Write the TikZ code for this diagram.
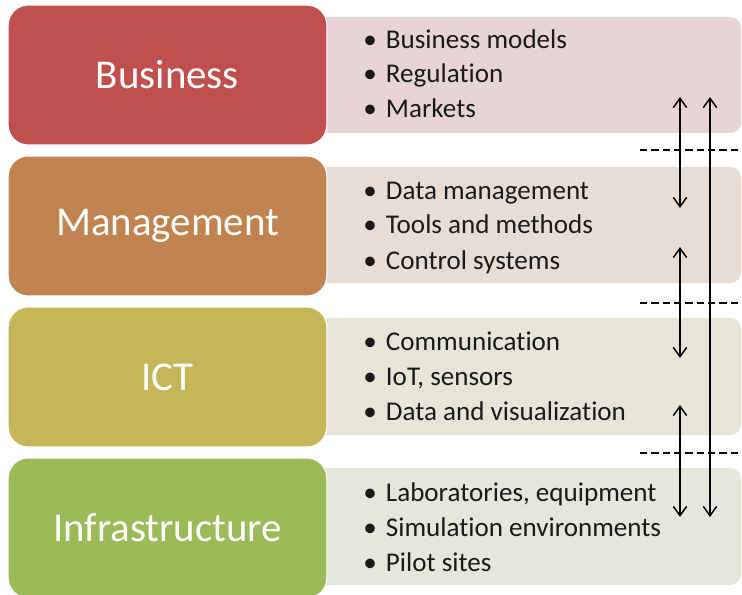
\documentclass[tikz,border=0pt]{standalone}
\usepackage{fontspec}
\setmainfont{Carlito}[RawFeature=-liga]
\usetikzlibrary{arrows.meta}
\definecolor{busC}{HTML}{C0504D}
\definecolor{busP}{HTML}{E7D4D5}
\definecolor{manC}{HTML}{C1834F}
\definecolor{manP}{HTML}{E7DDD5}
\definecolor{ictC}{HTML}{C4B659}
\definecolor{ictP}{HTML}{E6E5D8}
\definecolor{infC}{HTML}{9BBB59}
\definecolor{infP}{HTML}{E3E8DA}
\definecolor{txt}{HTML}{1A1A1A}
\begin{document}
\begin{tikzpicture}[x=0.75pt,y=-0.75pt,
  bigbox/.style={rounded corners=15pt, minimum width=239pt, minimum height=105pt, inner sep=0pt,
    text=white, font=\fontsize{30.7}{36}\selectfont, draw=white, line width=0.8pt},
  panel/.style={rounded corners=8pt},
  item/.style={anchor=base west, inner sep=0pt, font=\fontsize{20.3}{24}\selectfont, text=txt},
  sep/.style={dash pattern=on 5.5pt off 3pt, line width=1.1pt},
  dbl/.style={line width=1.1pt, {Straight Barb[length=7pt,width=10pt]}-{Straight Barb[length=7pt,width=10pt]}}
]
\fill[white] (0,0) rectangle (742,595);
\useasboundingbox (0,0) rectangle (742,595);

% panels
\fill[busP, panel] (300,17) rectangle (741,133);
\fill[manP, panel] (300,167) rectangle (741,283);
\fill[ictP, panel] (300,318) rectangle (741,435);
\fill[infP, panel] (300,468) rectangle (741,585);

% boxes
\node[bigbox, fill=busC] (bus) at (167.5,75) {Business};
\node[bigbox, fill=manC] (man) at (167.5,226) {Management};
\node[bigbox, fill=ictC] (ict) at (167.5,377) {ICT};
\node[bigbox, fill=infC] (inf) at (167.5,528) {Infrastructure};

% items
\foreach \y/\t/\n in {48.5/Business models/b1, 83/Regulation/b2, 117.5/Markets/b3,
                      199.5/Data management/m1, 234/Tools and methods/m2, 269.5/Control systems/m3,
                      350.5/Communication/c1, 385.5/{IoT, sensors}/c2, 420.5/Data and visualization/c3,
                      501.5/{Laboratories, equipment}/i1, 536.5/Simulation environments/i2, 571.5/Pilot sites/i3}
  \node[item] (\n) at (363,\y) {\makebox[17pt][l]{•}\t};

% dashed separators
\coordinate (d1a) at (640,150); \coordinate (d1b) at (742,150);
\coordinate (d2a) at (640,303); \coordinate (d2b) at (742,303);
\coordinate (d3a) at (640,453); \coordinate (d3b) at (742,453);
\draw[sep] (d1a) -- (d1b);
\draw[sep] (d2a) -- (d2b);
\draw[sep] (d3a) -- (d3b);

% arrows
\coordinate (a1t) at (680,97);  \coordinate (a1b) at (680,208);
\coordinate (a2t) at (680,247); \coordinate (a2b) at (680,358);
\coordinate (a3t) at (680,405); \coordinate (a3b) at (680,517);
\coordinate (alt) at (710,97);  \coordinate (alb) at (710,517);
\draw[dbl] (a1t) -- (a1b);
\draw[dbl] (a2t) -- (a2b);
\draw[dbl] (a3t) -- (a3b);
\draw[dbl] (alt) -- (alb);
\end{tikzpicture}
\end{document}
